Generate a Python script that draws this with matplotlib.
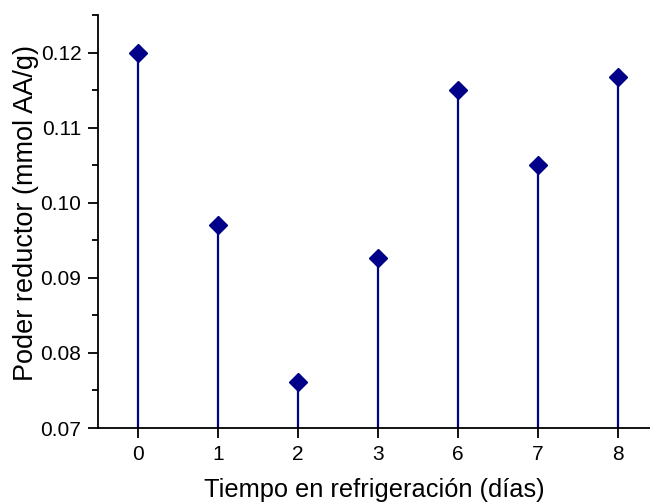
import matplotlib
matplotlib.use("Agg")
import matplotlib.pyplot as plt
from matplotlib.ticker import MultipleLocator

plt.rcParams['font.family'] = ['Liberation Sans', 'DejaVu Sans']

dias = ["0", "1", "2", "3", "6", "7", "8"]
poder_reductor = [0.1200, 0.0970, 0.0761, 0.0927, 0.1150, 0.1050, 0.1167]

color = "#000088"

fig = plt.figure(figsize=(6.5, 5.04), dpi=100)
ax = fig.add_axes([98 / 650, 1 - 428 / 504, 1 - 98 / 650, (428 - 15) / 504])

pos = list(range(len(dias)))
ax.vlines(pos, 0.07, poder_reductor, color=color, lw=1.6, zorder=2)
ax.plot(pos, poder_reductor, linestyle="none", marker="D", ms=9.5,
        color=color, zorder=3, clip_on=False)

ax.set_xlim(-0.5, 6.4)
ax.set_ylim(0.07, 0.125)
ax.set_xticks(pos)
ax.set_xticklabels(dias)
ax.yaxis.set_major_locator(MultipleLocator(0.01))
ax.yaxis.set_minor_locator(MultipleLocator(0.005))
ax.yaxis.set_major_formatter(plt.FuncFormatter(lambda v, p: f"{v:.2f}"))

for s in ("top", "right"):
    ax.spines[s].set_visible(False)
for s in ("left", "bottom"):
    ax.spines[s].set_linewidth(1.3)

ax.tick_params(axis="both", which="major", direction="out", length=7, width=1.3,
               labelsize=15, pad=5)
ax.tick_params(axis="y", which="minor", direction="out", length=4, width=1.3)

ax.set_xlabel("Tiempo en refrigeración (días)", fontsize=18.3, labelpad=10)
ax.set_ylabel("Poder reductor (mmol AA/g)", fontsize=19.5)
ax.yaxis.set_label_coords(-0.107, 0.52)

fig.savefig("out.png", dpi=100)
